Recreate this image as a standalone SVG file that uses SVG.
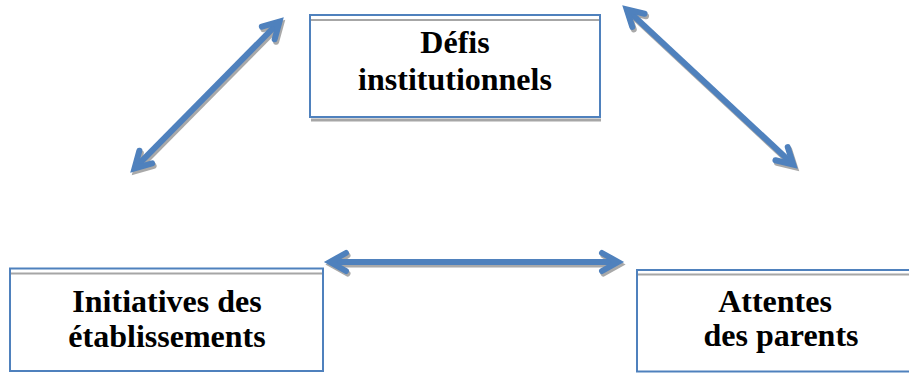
<svg xmlns="http://www.w3.org/2000/svg" width="909" height="373" viewBox="0 0 909 373">
<style>
.box{fill:#fff;stroke:#4F81BD;stroke-width:2}
.inner{stroke:#A6A6A6;stroke-width:2}
.shd{stroke:#A6A6A6;stroke-width:3}
.lbl{font-weight:bold;font-size:32px;fill:#000;text-anchor:middle}
.shaft{stroke:#4F81BD;stroke-width:6;fill:none}
.shaftS{stroke:#A0A0A0;stroke-width:6;fill:none}
</style>
<defs>
<marker id="ah" markerUnits="userSpaceOnUse" orient="auto-start-reverse" refX="0" refY="0" overflow="visible" markerWidth="1" markerHeight="1">
<path d="M-16,-9 L0,0 L-16,9" fill="none" stroke="#4F81BD" stroke-width="6" stroke-linejoin="miter" stroke-linecap="round"/>
</marker>
<marker id="ahS" markerUnits="userSpaceOnUse" orient="auto-start-reverse" refX="0" refY="0" overflow="visible" markerWidth="1" markerHeight="1">
<path d="M-16,-9 L0,0 L-16,9" fill="none" stroke="#A0A0A0" stroke-width="6" stroke-linejoin="miter" stroke-linecap="round"/>
</marker>
</defs>
<rect width="909" height="373" fill="#fff"/>
<g id="connectors">
<g transform="translate(1.5,2.5)" opacity="0.9">
<line class="shaftS" x1="134.5" y1="168.4" x2="279.5" y2="21.6" marker-start="url(#ahS)" marker-end="url(#ahS)"/>
<line class="shaftS" x1="626.7" y1="9.4" x2="793.3" y2="164.6" marker-start="url(#ahS)" marker-end="url(#ahS)"/>
<line class="shaftS" x1="330" y1="262" x2="618" y2="262" marker-start="url(#ahS)" marker-end="url(#ahS)"/>
</g>
<line class="shaft" x1="134.5" y1="168.4" x2="279.5" y2="21.6" marker-start="url(#ah)" marker-end="url(#ah)"/>
<line class="shaft" x1="626.7" y1="9.4" x2="793.3" y2="164.6" marker-start="url(#ah)" marker-end="url(#ah)"/>
<line class="shaft" x1="330" y1="262" x2="618" y2="262" marker-start="url(#ah)" marker-end="url(#ah)"/>
</g>
<g id="node-defis" font-family="Liberation Serif, serif">
<line class="shd" x1="311" y1="120" x2="601" y2="120"/>
<rect class="box" x="310" y="15" width="290" height="102"/>
<line class="inner" x1="311" y1="20" x2="599" y2="20"/>
<text class="lbl" x="455" y="53">Défis</text>
<text class="lbl" x="455" y="90">institutionnels</text>
</g>
<g id="node-initiatives" font-family="Liberation Serif, serif">
<rect class="box" x="10" y="268.5" width="313" height="102.5"/>
<line class="inner" x1="11" y1="273.5" x2="322" y2="273.5"/>
<text class="lbl" x="167" y="312">Initiatives des</text>
<text class="lbl" x="167" y="347">établissements</text>
</g>
<g id="node-attentes" font-family="Liberation Serif, serif">
<rect class="box" x="637" y="270" width="290" height="101.5"/>
<line class="inner" x1="638" y1="274.5" x2="909" y2="274.5"/>
<text class="lbl" x="775" y="312">Attentes</text>
<text class="lbl" x="781" y="346">des parents</text>
</g>
</svg>
